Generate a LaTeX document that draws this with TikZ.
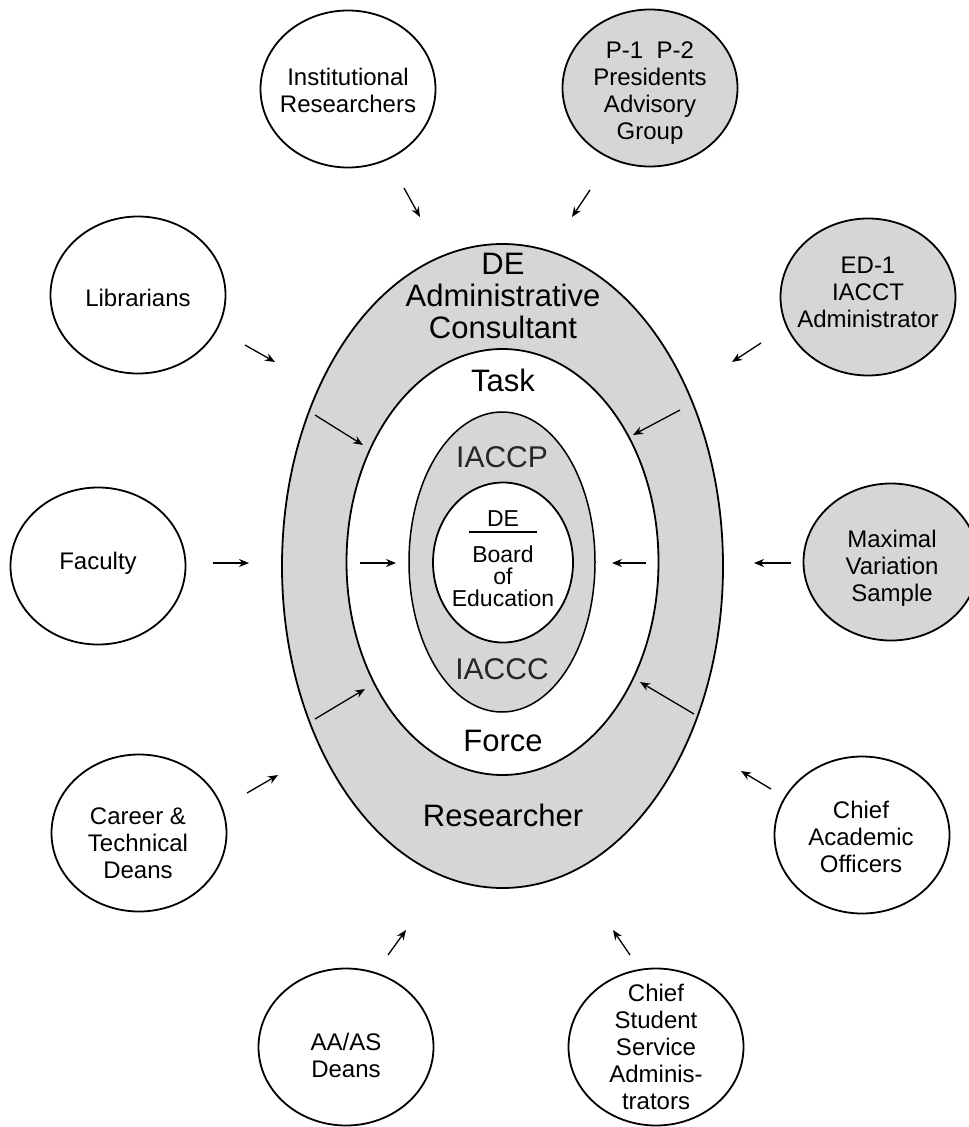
\documentclass[tikz,border=0pt]{standalone}
\usepackage{fontspec}
\setmainfont{Liberation Sans}
\usetikzlibrary{shapes.geometric,arrows.meta}
\definecolor{bandgray}{RGB}{214,214,214}
\begin{document}
\begin{tikzpicture}[x=1pt,y=-1pt,
  ring/.style={ellipse, draw=black, line width=1.8pt, inner sep=0pt},
  member/.style={ellipse, draw=black, line width=1.8pt, inner sep=0pt, minimum width=175pt, minimum height=157pt},
  graymember/.style={member, fill=bandgray},
  whitemember/.style={member, fill=white},
  memtext/.style={align=center, inner sep=0pt, font=\fontsize{24}{27}\selectfont},
  big/.style={align=center, inner sep=0pt, font=\fontsize{31}{32}\selectfont},
  mid/.style={align=center, inner sep=0pt, font=\fontsize{30}{32}\selectfont, text=black!85},
  small/.style={align=center, inner sep=0pt, font=\fontsize{23}{22}\selectfont},
  flow/.style={-{Stealth[length=10pt,width=8pt]}, line width=1.3pt},
]
\useasboundingbox (0,0) rectangle (969,1127);

% central rings
\node[ring, fill=bandgray, minimum width=441pt, minimum height=644pt] (outer) at (502.5,566) {};
\node[ring, fill=white, minimum width=312pt, minimum height=426pt] (middle) at (502.5,562) {};
\node[ring, fill=bandgray, line width=1.5pt, minimum width=186pt, minimum height=300pt] (iaccp) at (502,562) {};
\node[ring, fill=white, minimum width=140pt, minimum height=160pt] (board) at (503,562.5) {};

% central texts
\node[big] (admin) at (503,296) {DE\\Administrative\\Consultant};
\node[big] (task) at (503,380) {Task};
\node[mid] (iaccptext) at (502,457) {IACCP};
\node[mid] (iaccctext) at (502,669) {IACCC};
\node[big] (force) at (503,741) {Force};
\node[big] (researcher) at (503,815) {Researcher};
\node[small] (de) at (503,519) {DE};
\coordinate (ruleL) at (469,532);
\coordinate (ruleR) at (537,532);
\draw[line width=1.3pt] (ruleL) -- (ruleR);
\node[small] (boe) at (503,576) {Board\\of\\Education};

% surrounding groups
\node[whitemember] (inst) at (348,89) {};
\node[memtext] (instt) at (348,90) {Institutional\\Researchers};
\node[graymember] (pres) at (650,88) {};
\node[memtext] (prest) at (650,93) {P-1~~P-2\\Presidents\\Advisory\\Group};
\node[whitemember] (lib) at (138,295) {};
\node[memtext] (libt) at (138,298) {Librarians};
\node[graymember] (ed) at (868,297) {};
\node[memtext] (edt) at (868,292) {ED-1\\IACCT\\Administrator};
\node[whitemember] (fac) at (98,566) {};
\node[memtext] (fact) at (98,563) {Faculty};
\node[graymember] (max) at (891,562) {};
\node[memtext] (maxt) at (892,568) {Maximal\\Variation\\Sample};
\node[whitemember] (car) at (139,833) {};
\node[memtext] (cart) at (138,843) {Career \&\\Technical\\Deans};
\node[whitemember] (cao) at (862,835) {};
\node[memtext] (caot) at (861,837) {Chief\\Academic\\Officers};
\node[whitemember] (aa) at (346,1047) {};
\node[memtext] (aat) at (346,1055) {AA/AS\\Deans};
\node[whitemember] (css) at (656,1047) {};
\node[memtext] (csst) at (656,1047) {Chief\\Student\\Service\\Adminis-\\trators};

% arrow end points
\coordinate (instA) at (404,188); \coordinate (instB) at (420,217);
\coordinate (presA) at (590,190); \coordinate (presB) at (572,217);
\coordinate (libA) at (245,345);  \coordinate (libB) at (275,362);
\coordinate (edA) at (761,343);   \coordinate (edB) at (732,362);
\coordinate (facA) at (213,563);  \coordinate (facB) at (249,563);
\coordinate (maxA) at (791,563);  \coordinate (maxB) at (754,563);
\coordinate (carA) at (247,793);  \coordinate (carB) at (278,775);
\coordinate (caoA) at (771,789);  \coordinate (caoB) at (741,771);
\coordinate (aaA) at (388,955);   \coordinate (aaB) at (406,930);
\coordinate (cssA) at (630,955);  \coordinate (cssB) at (613,930);
\coordinate (ulA) at (315,415);   \coordinate (ulB) at (363,445);
\coordinate (urA) at (680,410);   \coordinate (urB) at (633,435);
\coordinate (llA) at (315,719);   \coordinate (llB) at (365,689);
\coordinate (lrA) at (694,714);   \coordinate (lrB) at (640,682);
\coordinate (ilA) at (360,563);   \coordinate (ilB) at (396,563);
\coordinate (irA) at (646,563);   \coordinate (irB) at (612,563);

\foreach \p in {inst,pres,lib,ed,fac,max,car,cao,aa,css,ul,ur,ll,lr,il,ir}
  \draw[flow] (\p A) -- (\p B);
\end{tikzpicture}
\end{document}
